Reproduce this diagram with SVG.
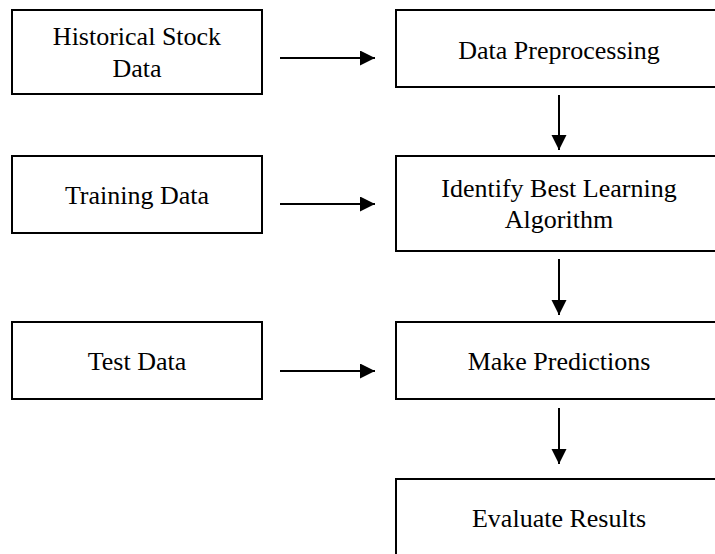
<svg xmlns="http://www.w3.org/2000/svg" width="715" height="554" viewBox="0 0 715 554">
  <style>
    .box { fill: #ffffff; stroke: #000000; stroke-width: 2; }
    .lbl { font-family: 'Liberation Serif', serif; font-size: 26px; fill: #000000; text-anchor: middle; }
    .conn { stroke: #000000; stroke-width: 2; fill: none; marker-end: url(#head); }
  </style>
  <defs>
    <marker id="head" markerUnits="userSpaceOnUse" markerWidth="16" markerHeight="16" refX="15" refY="7.5" orient="auto">
      <path d="M0,0 L15,7.5 L0,15 Z" fill="#000000"/>
    </marker>
  </defs>
  <rect width="715" height="554" fill="#ffffff"/>

  <!-- input nodes -->
  <g id="historical-stock-data">
    <rect class="box" x="12" y="10" width="250" height="84"/>
    <text class="lbl" x="137" y="45">Historical Stock</text>
    <text class="lbl" x="137" y="77">Data</text>
  </g>
  <g id="training-data">
    <rect class="box" x="12" y="156" width="250" height="77"/>
    <text class="lbl" x="137" y="204">Training Data</text>
  </g>
  <g id="test-data">
    <rect class="box" x="12" y="322" width="250" height="77"/>
    <text class="lbl" x="137" y="370">Test Data</text>
  </g>

  <!-- process nodes -->
  <g id="data-preprocessing">
    <rect class="box" x="396" y="10" width="330" height="77"/>
    <text class="lbl" x="559" y="59">Data Preprocessing</text>
  </g>
  <g id="identify-algorithm">
    <rect class="box" x="396" y="156" width="330" height="95"/>
    <text class="lbl" x="559" y="197">Identify Best Learning</text>
    <text class="lbl" x="559" y="228">Algorithm</text>
  </g>
  <g id="make-predictions">
    <rect class="box" x="396" y="322" width="330" height="77"/>
    <text class="lbl" x="559" y="370">Make Predictions</text>
  </g>
  <g id="evaluate-results">
    <rect class="box" x="396" y="479" width="330" height="90"/>
    <text class="lbl" x="559" y="527">Evaluate Results</text>
  </g>

  <!-- connectors -->
  <g id="connectors">
    <line class="conn" x1="280" y1="58" x2="375" y2="58"/>
    <line class="conn" x1="280" y1="204" x2="375" y2="204"/>
    <line class="conn" x1="280" y1="371" x2="375" y2="371"/>
    <line class="conn" x1="559" y1="95" x2="559" y2="150"/>
    <line class="conn" x1="559" y1="259" x2="559" y2="315"/>
    <line class="conn" x1="559" y1="408" x2="559" y2="464"/>
  </g>
</svg>
